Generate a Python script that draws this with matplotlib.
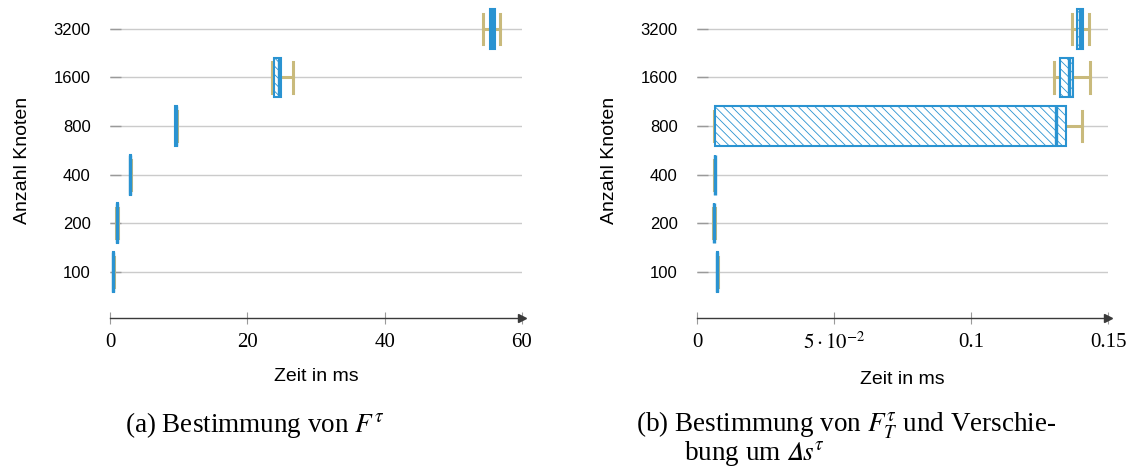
import matplotlib
matplotlib.use("Agg")
import matplotlib.pyplot as plt

# -----------------------------------------------------------------------------
# Laufzeitmessungen (Boxplot-Kennwerte) pro Knotenanzahl
# -----------------------------------------------------------------------------

knoten = ["100", "200", "400", "800", "1600", "3200"]

# (a) Bestimmung von F^tau, Zeit in ms
a_med = [0.48, 1.07, 2.97, 9.6, 24.6, 55.6]
a_q1 = [0.42, 1.00, 2.90, 9.5, 23.9, 55.3]
a_q3 = [0.55, 1.15, 3.05, 9.7, 24.9, 56.0]
a_lo = [0.38, 0.95, 2.85, 9.45, 23.6, 54.3]
a_hi = [0.60, 1.20, 3.10, 9.75, 26.6, 56.8]

# (b) Bestimmung von F_T^tau und Verschiebung, Zeit in ms
b_med = [0.0074, 0.0062, 0.0065, 0.1309, 0.1357, 0.1399]
b_q1 = [0.0073, 0.0061, 0.0064, 0.0066, 0.1325, 0.1388]
b_q3 = [0.0075, 0.0063, 0.0066, 0.1346, 0.1371, 0.1410]
b_lo = [0.0072, 0.0060, 0.0062, 0.0062, 0.1302, 0.1370]
b_hi = [0.0076, 0.0064, 0.0067, 0.1405, 0.1434, 0.1430]

a_ticks = [0, 20, 40, 60]
a_ticklabels = ["0", "20", "40", "60"]
b_ticks = [0, 0.05, 0.1, 0.15]
b_ticklabels = ["0", r"$5\cdot10^{-2}$", "0.1", "0.15"]

BLUE = "#2a93d1"
TAN = "#c9ba7c"
GRID = "#cbcbcb"
AXIS = "#3a3a3a"

plt.rcParams["font.family"] = ["Liberation Sans", "DejaVu Sans"]
plt.rcParams["mathtext.fontset"] = "stix"
plt.rcParams["hatch.linewidth"] = 0.6
SERIF = ["Liberation Serif", "DejaVu Serif"]


def make_stats(med, q1, q3, lo, hi):
    return [dict(med=m, q1=a, q3=b, whislo=l, whishi=h, fliers=[])
            for m, a, b, l, h in zip(med, q1, q3, lo, hi)]


def draw_panel(ax, stats, xlim, ticks, ticklabels):
    pos = list(range(1, len(stats) + 1))
    bp = ax.bxp(stats, positions=pos, vert=False, widths=0.82,
                capwidths=0.62, patch_artist=True, showfliers=False,
                boxprops=dict(facecolor="white", edgecolor=BLUE, linewidth=1.5,
                              hatch="\\\\\\\\"),
                medianprops=dict(color=BLUE, linewidth=2.4),
                whiskerprops=dict(color=TAN, linewidth=2.2),
                capprops=dict(color=TAN, linewidth=2.2))
    # Boxen vor die Whisker legen
    for b in bp["boxes"]:
        b.set_zorder(3)
    for m in bp["medians"]:
        m.set_zorder(4)

    ax.set_xlim(*xlim)
    ax.set_ylim(0.05, 6.55)
    ax.set_yticks(pos)
    ax.set_yticklabels(knoten, fontsize=12)
    ax.grid(axis="y", color=GRID, linewidth=1.0)
    ax.set_axisbelow(True)
    ax.tick_params(axis="y", direction="in", length=8, width=1.0,
                   color="#9a9a9a", pad=14)

    ax.set_xticks(ticks)
    ax.set_xticklabels(ticklabels, family=SERIF, fontsize=15)
    ax.tick_params(axis="x", direction="inout", length=9, width=0.8,
                   color="#9a9a9a", pad=6)

    for side in ["top", "right", "left"]:
        ax.spines[side].set_visible(False)
    ax.spines["bottom"].set_color(AXIS)
    ax.spines["bottom"].set_linewidth(1.0)
    # Pfeilspitze am Ende der Zeitachse
    ax.plot(1, 0, marker=">", markersize=6, color=AXIS,
            transform=ax.transAxes, clip_on=False)

    ax.set_xlabel("Zeit in ms", fontsize=14, labelpad=12)
    ax.set_ylabel("Anzahl Knoten", fontsize=14, labelpad=16)


fig = plt.figure(figsize=(11.36, 4.70), dpi=100)
ax_a = fig.add_axes([0.0968, 0.3234, 0.3627, 0.672])
ax_b = fig.add_axes([0.6136, 0.3234, 0.3618, 0.672])

draw_panel(ax_a, make_stats(a_med, a_q1, a_q3, a_lo, a_hi),
           (0, 60), a_ticks, a_ticklabels)
draw_panel(ax_b, make_stats(b_med, b_q1, b_q3, b_lo, b_hi),
           (0, 0.15), b_ticks, b_ticklabels)

CAP = 19.5
fig.text(125 / 1136, 1 - 425 / 470, r"(a) Bestimmung von $F^{\tau}$",
         family=SERIF, fontsize=CAP, va="center", ha="left")
fig.text(636 / 1136, 1 - 425 / 470,
         r"(b) Bestimmung von $F_{T}^{\tau}$ und Verschie-",
         family=SERIF, fontsize=CAP, va="center", ha="left")
fig.text(684 / 1136, 1 - 453 / 470, r"bung um $𝛥s^{\tau}$",
         family=SERIF, fontsize=CAP, va="center", ha="left")

fig.savefig("out.png", dpi=100)
